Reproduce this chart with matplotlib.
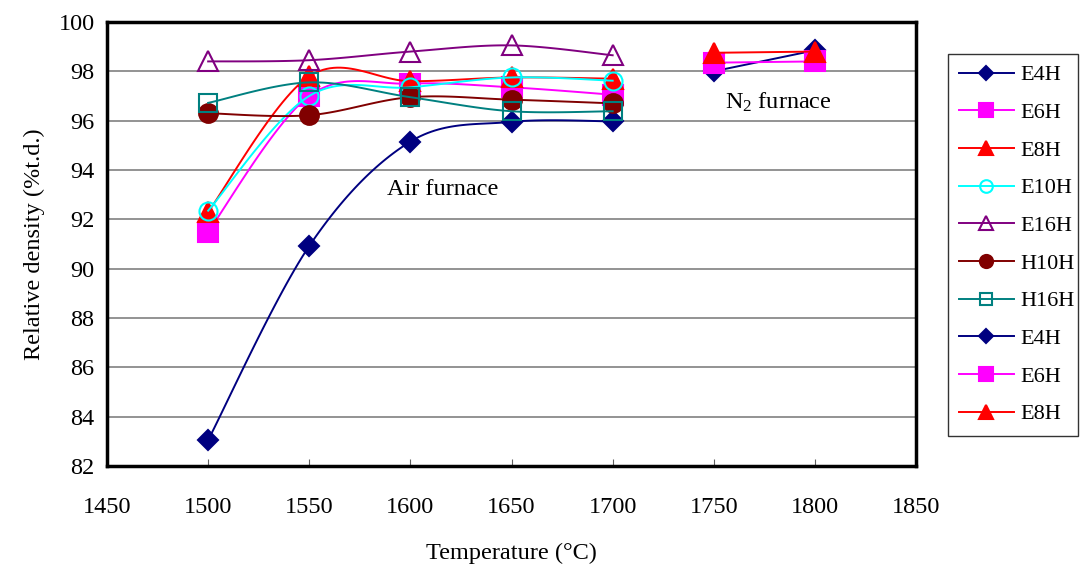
import numpy as np
import matplotlib
matplotlib.use("Agg")
import matplotlib.pyplot as plt

plt.rcParams['font.family'] = ['Liberation Serif', 'DejaVu Serif']
plt.rcParams['mathtext.fontset'] = 'custom'
plt.rcParams['mathtext.rm'] = 'Liberation Serif'
plt.rcParams['mathtext.it'] = 'Liberation Serif:italic'

# sintering temperatures (C)
temp_air = [1500, 1550, 1600, 1650, 1700]
temp_n2 = [1750, 1800]

# relative density (% theoretical density), air furnace
e4h = [83.05, 90.92, 95.15, 95.95, 95.97]
e6h = [91.5, 97.0, 97.5, 97.35, 97.05]
e8h = [92.3, 97.8, 97.6, 97.75, 97.7]
e10h = [92.35, 97.0, 97.35, 97.75, 97.62]
e16h = [98.4, 98.45, 98.8, 99.05, 98.65]
h10h = [96.3, 96.22, 96.95, 96.85, 96.7]
h16h = [96.72, 97.55, 96.95, 96.38, 96.38]

# relative density, N2 furnace
e4h_n2 = [98.0, 98.85]
e6h_n2 = [98.35, 98.4]
e8h_n2 = [98.75, 98.8]


def smooth(xs, ys, n=30):
    # cubic bezier through the points, catmull-rom style tangents
    p = np.column_stack([xs, ys]).astype(float)
    pts = [p[0]]
    for i in range(len(p) - 1):
        p0 = p[i - 1] if i > 0 else p[i]
        p3 = p[i + 2] if i + 2 < len(p) else p[i + 1]
        c1 = p[i] + (p[i + 1] - p0) / 6.0
        c2 = p[i + 1] - (p3 - p[i]) / 6.0
        t = np.linspace(0, 1, n)[1:, None]
        seg = ((1 - t) ** 3) * p[i] + 3 * ((1 - t) ** 2) * t * c1 \
            + 3 * (1 - t) * t ** 2 * c2 + t ** 3 * p[i + 1]
        pts.extend(seg)
    pts = np.array(pts)
    return pts[:, 0], pts[:, 1]


fig = plt.figure(figsize=(10.81, 5.66), dpi=100)
ax = fig.add_axes([0.099, 0.1767, 0.7484, 0.7845])

series = [
    (temp_air, e4h, 'E4H', '#000080', 'D', 10.5, True),
    (temp_air, e6h, 'E6H', '#FF00FF', 's', 14, True),
    (temp_air, e8h, 'E8H', '#FF0000', '^', 15, True),
    (temp_air, e10h, 'E10H', '#00FFFF', 'o', 13, False),
    (temp_air, e16h, 'E16H', '#800080', '^', 15, False),
    (temp_air, h10h, 'H10H', '#800000', 'o', 13.5, True),
    (temp_air, h16h, 'H16H', '#008080', 's', 13, False),
    (temp_n2, e4h_n2, 'E4H', '#000080', 'D', 10.5, True),
    (temp_n2, e6h_n2, 'E6H', '#FF00FF', 's', 14, True),
    (temp_n2, e8h_n2, 'E8H', '#FF0000', '^', 15, True),
]

handles = []
for k, (xs, ys, name, col, mk, ms, filled) in enumerate(series):
    sx, sy = smooth(xs, ys)
    ax.plot(sx, sy, color=col, lw=1.4, zorder=3 + 2 * k, clip_on=False)
    face = col if filled else 'none'
    ax.plot(xs, ys, linestyle='none', marker=mk, ms=ms, mfc=face, mec=col,
            mew=1.5, zorder=4 + 2 * k, clip_on=False)
    h, = ax.plot([], [], color=col, lw=1.4, marker=mk, ms=ms, mfc=face,
                 mec=col, mew=1.5)
    handles.append((h, name))

ax.set_xlim(1450, 1850)
ax.set_ylim(82, 100)
ax.set_xticks(np.arange(1450, 1851, 50))
ax.set_yticks(np.arange(82, 101, 2))
ax.yaxis.grid(True, color='#808080', lw=1.2)
ax.set_axisbelow(True)
for s in ax.spines.values():
    s.set_linewidth(2.5)
    s.set_color('black')
ax.tick_params(axis='x', direction='in', length=5, width=0.8, color='#606060',
               pad=22, labelsize=17.5)
ax.tick_params(axis='y', direction='in', length=0, pad=9, labelsize=17.5)

ax.set_xlabel('Temperature (°C)', fontsize=17.5, labelpad=18)
ax.set_ylabel('Relative density (%t.d.)', fontsize=17.5, labelpad=10)

ax.text(1616, 93.2, 'Air furnace', fontsize=17.5, ha='center', va='center')
ax.text(1782, 96.75, 'N$_2$ furnace', fontsize=17.5, ha='center', va='center')

# legend box spans a fixed strip on the right of the figure
leg = fig.legend([h for h, _ in handles], [n for _, n in handles],
                 loc='upper left', mode='expand',
                 bbox_to_anchor=(948 / 1081, 0.2, 130 / 1081, 0.705),
                 fontsize=16, markerscale=0.7, handlelength=2.45,
                 labelspacing=0.77, borderpad=0.5, handletextpad=0.3,
                 borderaxespad=0, fancybox=False, frameon=True)
leg.get_frame().set_edgecolor('black')
leg.get_frame().set_linewidth(1.0)

fig.savefig('out.png', dpi=100)
